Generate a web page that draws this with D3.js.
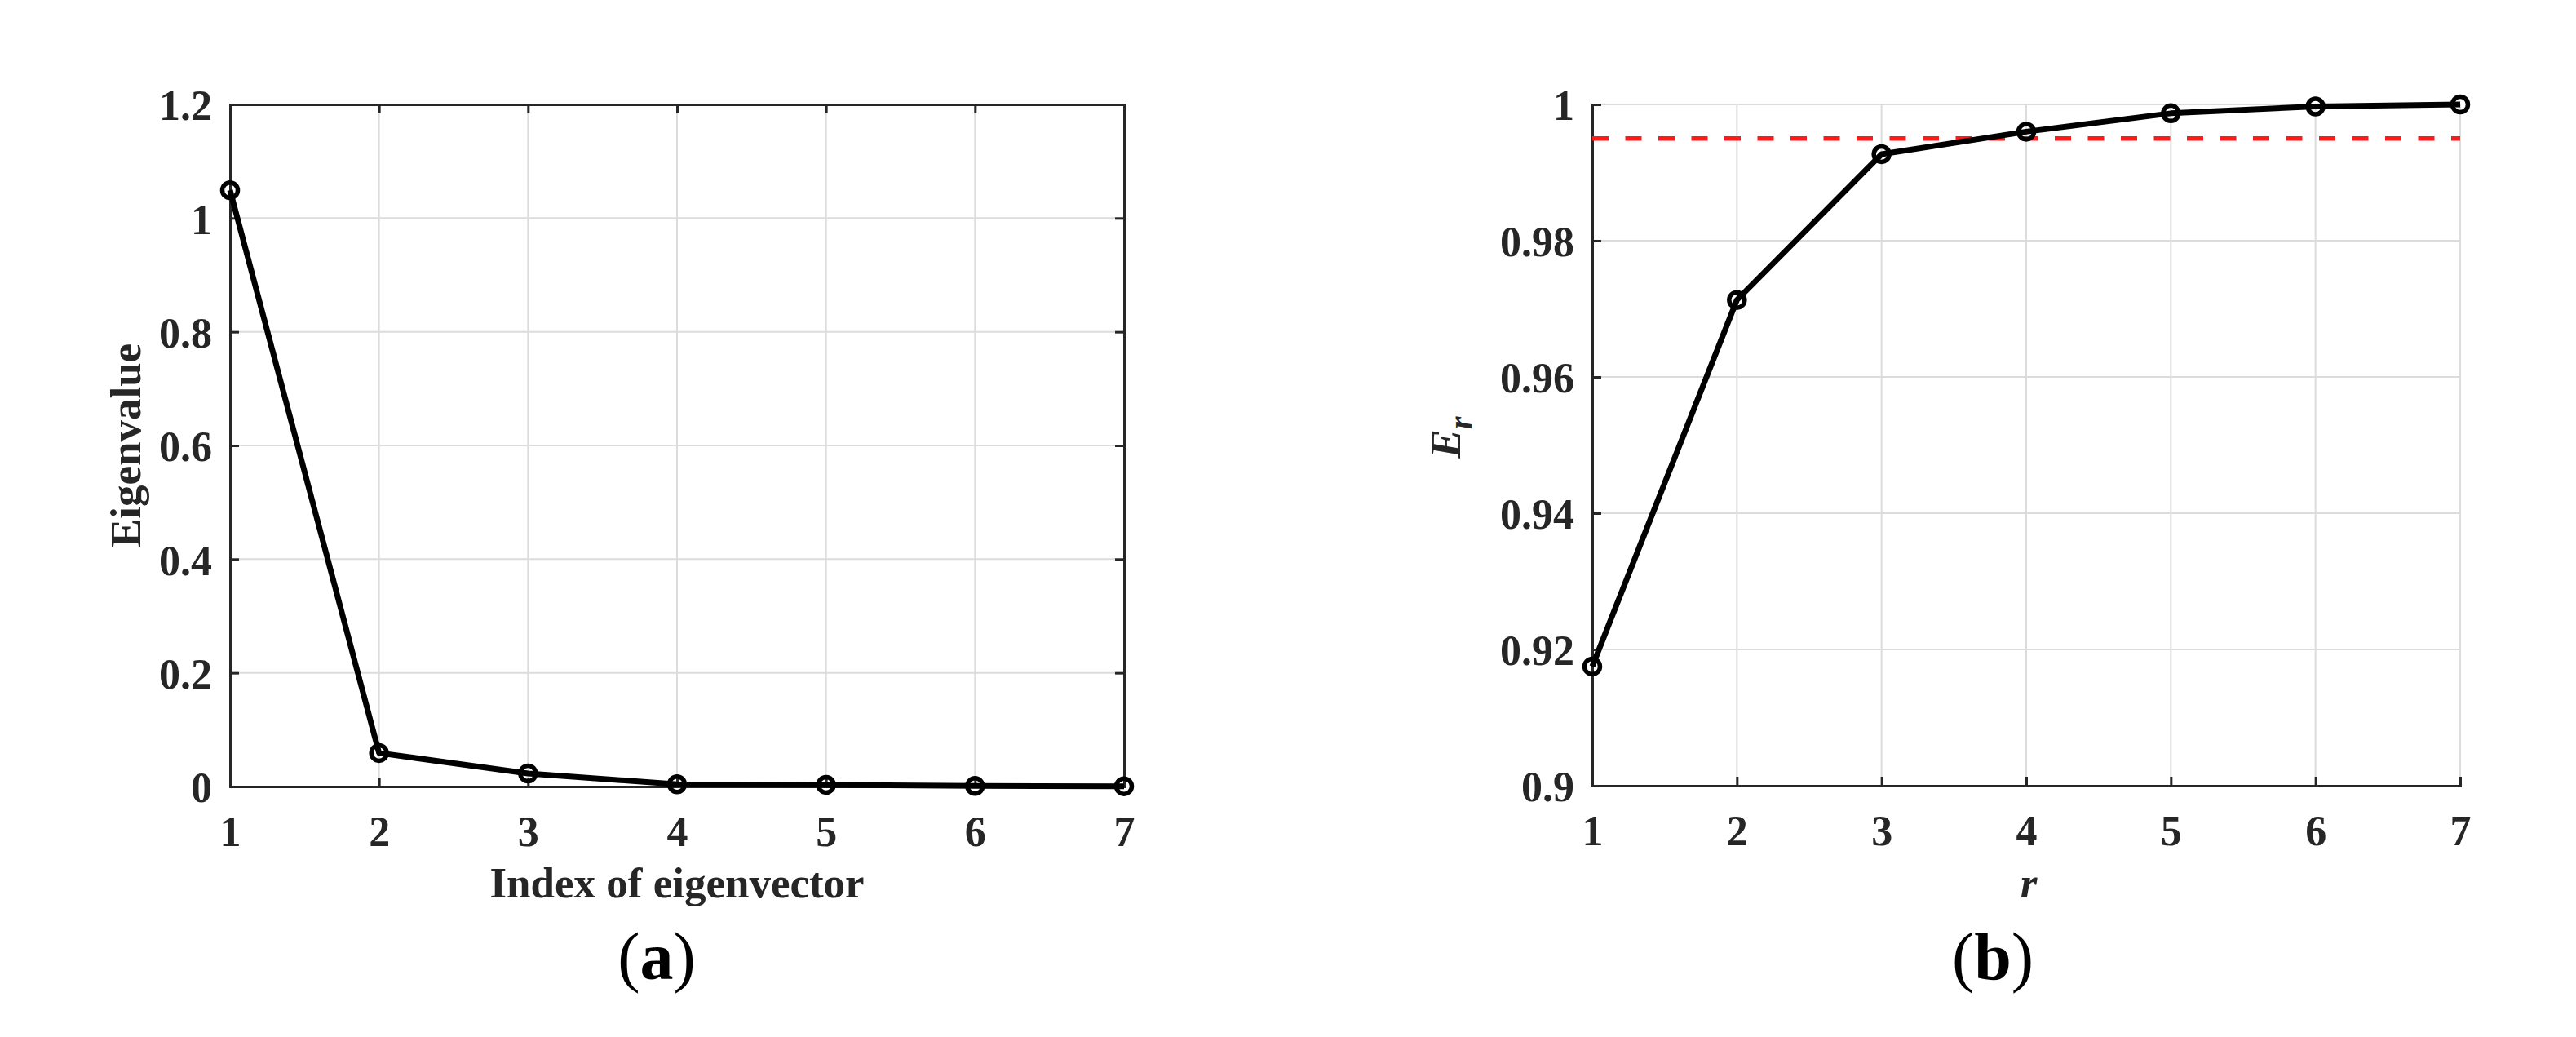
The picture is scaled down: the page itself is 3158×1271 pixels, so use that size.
<!DOCTYPE html>
<html><head><meta charset="utf-8">
<script src="https://cdn.jsdelivr.net/npm/d3@7"></script>
<style>body{margin:0;background:#fff}svg{display:block}</style>
</head><body>
<svg id="c" width="3158" height="1271"></svg>
<script>
const idx = [1,2,3,4,5,6,7];
const eigenvalues = [1.049, 0.059, 0.023, 0.004, 0.003, 0.001, 0.0005];
const energyRatio = [0.9175, 0.9713, 0.9927, 0.9960, 0.9987, 0.9997, 1.0];
const threshold = 0.995;
const xTicks = [1,2,3,4,5,6,7];
const yTicksA = [0,0.2,0.4,0.6,0.8,1,1.2];
const yTickLabelsA = ["0","0.2","0.4","0.6","0.8","1","1.2"];
const yTicksB = [0.9,0.92,0.94,0.96,0.98,1];
const yTickLabelsB = ["0.9","0.92","0.94","0.96","0.98","1"];

const svg = d3.select("#c");
svg.append("rect").attr("width",3158).attr("height",1271).attr("fill","#fff");
const FONT = "'Liberation Serif','Times New Roman',serif";
const AX = "#262626";

function panel(o){
  const g = svg.append("g");
  const x = d3.scaleLinear().domain([1,7]).range([o.x0,o.x1]);
  const y = d3.scaleLinear().domain(o.ydom).range([o.y1,o.y0]);
  // grid
  g.selectAll(".gx").data(xTicks).enter().append("line")
    .attr("x1",d=>x(d)).attr("x2",d=>x(d)).attr("y1",o.y0).attr("y2",o.y1)
    .attr("stroke","#dcdcdc").attr("stroke-width",2);
  g.selectAll(".gy").data(o.yticks).enter().append("line")
    .attr("y1",d=>y(d)).attr("y2",d=>y(d)).attr("x1",o.x0).attr("x2",o.x1)
    .attr("stroke","#dcdcdc").attr("stroke-width",2);
  // axes
  const xa = d3.axisBottom(x).tickValues(xTicks).tickSize(-11).tickFormat(d3.format("d")).tickPadding(36);
  const ya = d3.axisLeft(y).tickValues(o.yticks).tickSize(-11).tickFormat((d,i)=>o.ylabels[i]).tickPadding(22);
  const gx = g.append("g").attr("transform",`translate(0,${o.y1})`).call(xa);
  const gy = g.append("g").attr("transform",`translate(${o.x0},0)`).call(ya);
  [gx,gy].forEach(a=>{
    a.select(".domain").attr("stroke",AX).attr("stroke-width",3);
    a.selectAll(".tick line").attr("stroke",AX).attr("stroke-width",3);
    a.selectAll(".tick text").attr("fill",AX).style("font-family",FONT).style("font-weight","bold").style("font-size","52px");
  });
  gx.selectAll(".tick text").attr("dy","0.71em");
  gy.selectAll(".tick text").attr("dy","0.36em");
  if(o.box){
    const xt = d3.axisTop(x).tickValues(xTicks).tickSize(-11).tickFormat("");
    const yr = d3.axisRight(y).tickValues(o.yticks).tickSize(-11).tickFormat("");
    const gt = g.append("g").attr("transform",`translate(0,${o.y0})`).call(xt);
    const gr = g.append("g").attr("transform",`translate(${o.x1},0)`).call(yr);
    [gt,gr].forEach(a=>{
      a.select(".domain").attr("stroke",AX).attr("stroke-width",3);
      a.selectAll(".tick line").attr("stroke",AX).attr("stroke-width",3);
    });
  }
  if(o.thr!==undefined){
    g.append("line").attr("x1",o.x0).attr("x2",o.x1).attr("y1",y(o.thr)).attr("y2",y(o.thr))
      .attr("stroke","#ff1a1a").attr("stroke-width",5.5).attr("stroke-dasharray","20,20.5");
  }
  const line = d3.line().x((d,i)=>x(idx[i])).y(d=>y(d));
  g.append("path").datum(o.data).attr("d",line).attr("fill","none")
    .attr("stroke","#000").attr("stroke-width",7).attr("stroke-linejoin","round");
  g.selectAll(".m").data(o.data).enter().append("circle")
    .attr("cx",(d,i)=>x(idx[i])).attr("cy",d=>y(d)).attr("r",9.5)
    .attr("fill","none").attr("stroke","#000").attr("stroke-width",5.5);
  return {x,y,g};
}

const A = panel({x0:282,x1:1378,y0:128,y1:964,ydom:[0,1.2],yticks:yTicksA,ylabels:yTickLabelsA,data:eigenvalues,box:true});
const B = panel({x0:1952,x1:3016,y0:128,y1:963,ydom:[0.9,1],yticks:yTicksB,ylabels:yTickLabelsB,data:energyRatio,box:false,thr:threshold});

// axis labels
svg.append("text").attr("x",830).attr("y",1100).attr("text-anchor","middle")
  .style("font-family",FONT).style("font-weight","bold").style("font-size","53px").attr("fill",AX)
  .text("Index of eigenvector");
svg.append("text").attr("transform","translate(172,546) rotate(-90)").attr("text-anchor","middle")
  .style("font-family",FONT).style("font-weight","bold").style("font-size","53px").attr("fill",AX)
  .text("Eigenvalue");
svg.append("text").attr("x",2487).attr("y",1100).attr("text-anchor","middle")
  .style("font-family",FONT).style("font-weight","bold").style("font-style","italic").style("font-size","53px").attr("fill",AX)
  .text("r");
const er = svg.append("text").attr("transform","translate(1790,536) rotate(-90)").attr("text-anchor","middle")
  .style("font-family",FONT).style("font-weight","bold").style("font-style","italic").style("font-size","53px").attr("fill",AX);
er.append("tspan").text("E");
er.append("tspan").attr("dy",14).style("font-size","40px").text("r");

// panel labels
function sub(cx, letter){
  const t = svg.append("text").attr("x",cx).attr("y",1200).attr("text-anchor","middle")
    .style("font-family",FONT).style("font-size","82px").attr("fill","#000");
  t.append("tspan").text("(");
  t.append("tspan").style("font-weight","bold").text(letter);
  t.append("tspan").text(")");
}
sub(805,"a");
sub(2443,"b");
</script>
</body></html>
